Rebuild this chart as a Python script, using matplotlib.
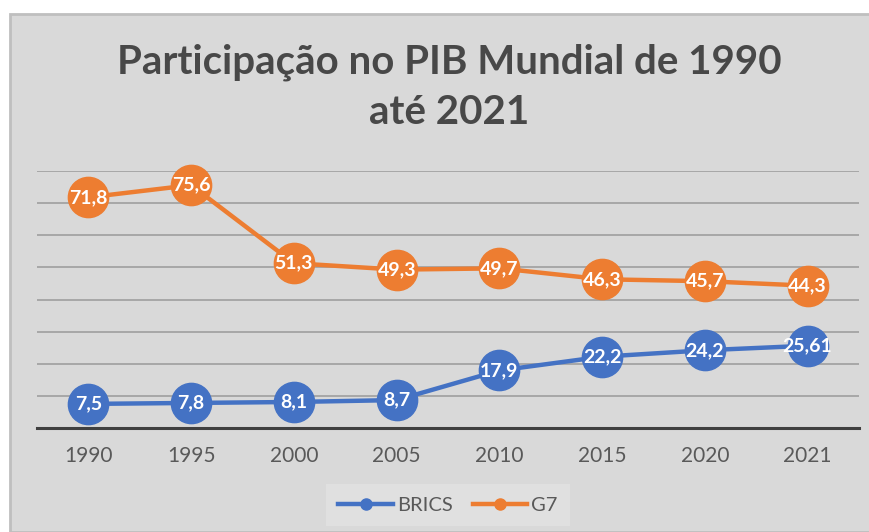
import matplotlib
matplotlib.use("Agg")
import matplotlib.pyplot as plt
from matplotlib.patches import Rectangle
from matplotlib.lines import Line2D

anos = ["1990", "1995", "2000", "2005", "2010", "2015", "2020", "2021"]
brics = [7.5, 7.8, 8.1, 8.7, 17.9, 22.2, 24.2, 25.61]
g7 = [71.8, 75.6, 51.3, 49.3, 49.7, 46.3, 45.7, 44.3]
brics_txt = ["7,5", "7,8", "8,1", "8,7", "17,9", "22,2", "24,2", "25,61"]
g7_txt = ["71,8", "75,6", "51,3", "49,3", "49,7", "46,3", "45,7", "44,3"]

azul = "#4472C4"
laranja = "#ED7D31"
fundo = "#D9D9D9"

plt.rcParams["font.family"] = ["Lato", "DejaVu Sans"]

W, H = 870, 532
fig = plt.figure(figsize=(W / 100, H / 100), dpi=100)
fig.patch.set_facecolor("white")

# caixa cinza do grafico
caixa = Rectangle((10 / W, 0), 1, 1 - 14 / H, transform=fig.transFigure,
                  facecolor=fundo, edgecolor="#BFBFBF", lw=2, zorder=-1)
fig.patches.append(caixa)

fig.text(449 / W, 1 - 62 / H, "Participação no PIB Mundial de 1990",
         ha="center", va="center", fontsize=29, fontweight="bold", color="#484848")
fig.text(449 / W, 1 - 113 / H, "até 2021",
         ha="center", va="center", fontsize=29, fontweight="bold", color="#484848")

ax = fig.add_axes([37 / W, 1 - 428 / H, 822 / W, (428 - 171) / H])
ax.set_facecolor("none")
x = list(range(len(anos)))

ax.set_xlim(-0.5, len(anos) - 0.5)
ax.set_ylim(0, 80)
ax.set_yticks(range(10, 81, 10))
ax.yaxis.grid(True, color="#A3A3A3", lw=1.3)
ax.set_axisbelow(True)
ax.tick_params(axis="y", left=False, labelleft=False)
ax.set_xticks(x)
ax.set_xticklabels(anos, fontsize=15, color="#595959")
ax.tick_params(axis="x", length=0, pad=13)
for s in ["left", "right", "top"]:
    ax.spines[s].set_visible(False)
ax.spines["bottom"].set_color("#404040")
ax.spines["bottom"].set_linewidth(2.2)
ax.spines["bottom"].set_zorder(1)

ax.plot(x, brics, color=azul, lw=3.2, marker="o", ms=29, clip_on=False, zorder=3)
ax.plot(x, g7, color=laranja, lw=3.2, marker="o", ms=29, clip_on=False, zorder=3)

for i in x:
    ax.text(i, brics[i], brics_txt[i], ha="center", va="center", color="white",
            fontsize=14, fontweight="bold", zorder=4)
    ax.text(i, g7[i], g7_txt[i], ha="center", va="center", color="white",
            fontsize=14, fontweight="bold", zorder=4)

handles = [Line2D([], [], color=azul, lw=3.2, marker="o", ms=8),
           Line2D([], [], color=laranja, lw=3.2, marker="o", ms=8)]
leg = fig.legend(handles, ["BRICS", "G7"], loc="center", ncol=2,
                 bbox_to_anchor=(448 / W, 1 - 505 / H), fontsize=14.5,
                 frameon=True, facecolor="#E2E2E2", edgecolor="none",
                 fancybox=False, handlelength=2.7, handletextpad=0.2,
                 columnspacing=1.0, borderpad=0.6)
for t in leg.get_texts():
    t.set_color("#595959")

fig.savefig("out.png", dpi=100)
